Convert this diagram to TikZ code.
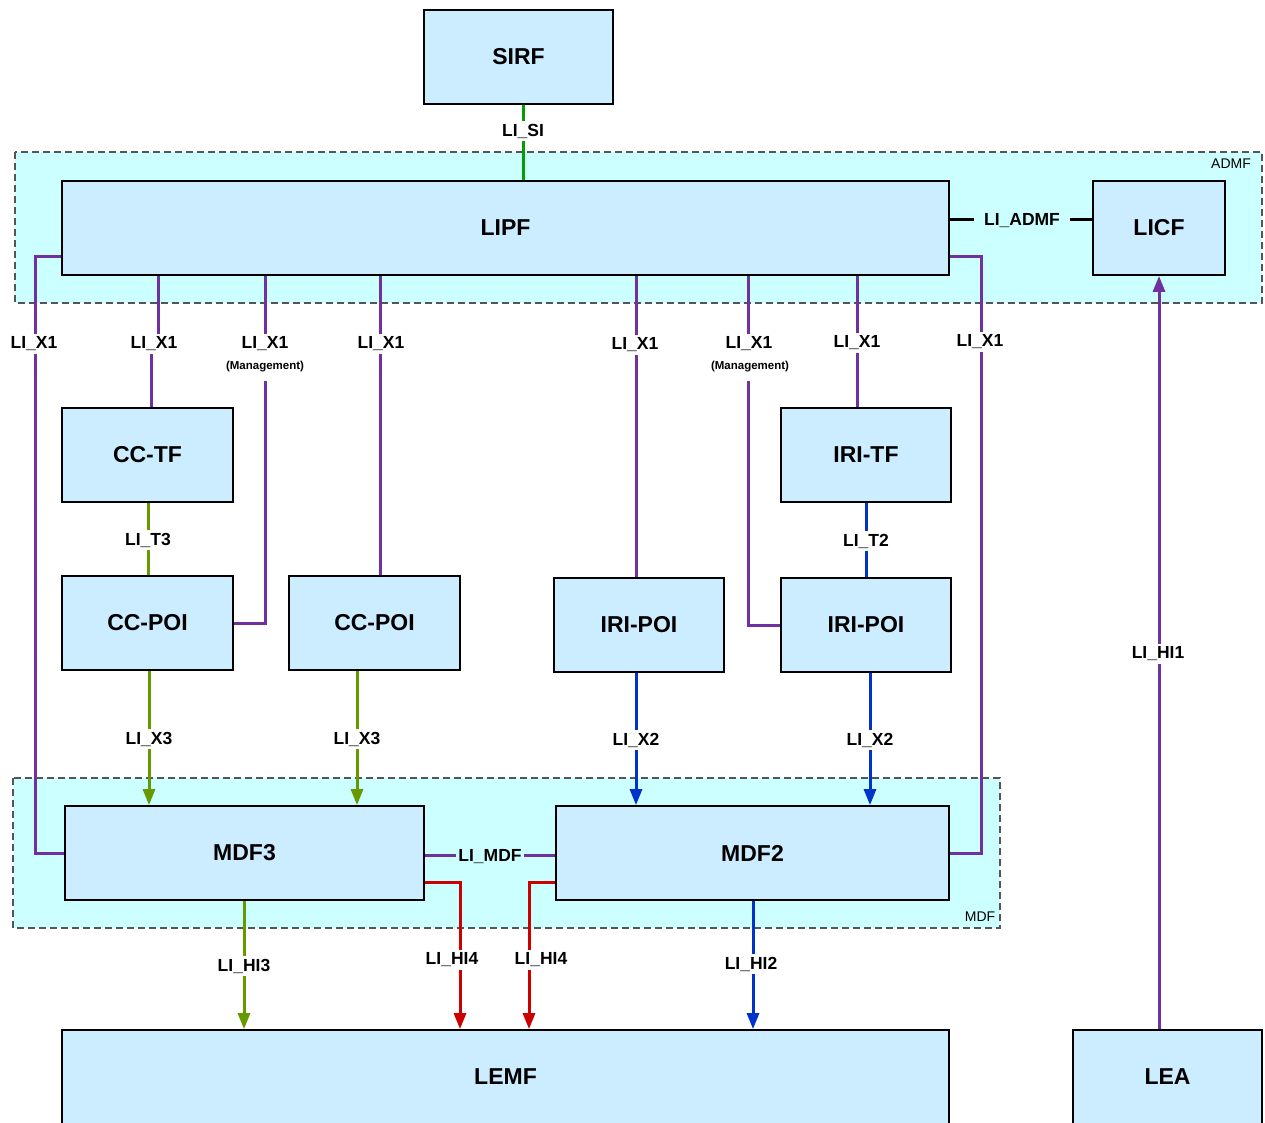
\documentclass[tikz,border=0pt]{standalone}
\usepackage{fontspec}
\setmainfont{Liberation Sans}
\usetikzlibrary{arrows.meta}
\definecolor{boxfill}{HTML}{CCECFF}
\definecolor{clusterfill}{HTML}{CCFFFF}
\definecolor{clusterline}{HTML}{555555}
\definecolor{purp}{HTML}{7030A0}
\definecolor{olive}{HTML}{669900}
\definecolor{sigreen}{HTML}{00A000}
\definecolor{iriblue}{HTML}{0033CC}
\definecolor{hired}{HTML}{CC0000}
\begin{document}
\begin{tikzpicture}[x=1pt,y=-1pt,
  box/.style={draw=black,line width=1.8pt,fill=boxfill,inner sep=0pt,
    font=\fontsize{23}{26}\selectfont\bfseries},
  cluster/.style={draw=clusterline,dash pattern=on 7pt off 4pt,line width=1.2pt,fill=clusterfill},
  clabel/.style={font=\fontsize{14}{16}\selectfont,inner sep=0pt},
  lbl/.style={font=\fontsize{17.5}{19}\selectfont\bfseries,fill=white,inner sep=3pt,yshift=-2pt},
  mgmt/.style={font=\fontsize{11.5}{13}\selectfont\bfseries,fill=white,inner xsep=6pt,inner ysep=9pt},
  conn/.style={line width=3pt},
  arr/.style={conn,-{Triangle[length=16pt,width=12pt]}},
  pline/.style={conn,draw=purp},
  gline/.style={draw=olive},
  bline/.style={draw=iriblue},
  rline/.style={draw=hired}]
\useasboundingbox (0,0) rectangle (1265,1122);
\clip (0,0) rectangle (1265,1122);

% clusters
\draw[cluster] (15,152) rectangle (1262,303);
\node[clabel] (admflbl) at (1231,164) {ADMF};
\draw[cluster] (13,778) rectangle (1000,928);
\node[clabel] (mdflbl) at (980,917) {MDF};

% helper coordinates
\foreach \xv in {35,148,149,151,158,244,265,357,380,460,523,529,636,748,753,857,870,981,1159}
  {\coordinate (x\xv) at (\xv,0);}
\foreach \yv in {219,256,342,855,882}
  {\coordinate (y\yv) at (0,\yv);}

% boxes
\node[box,minimum width=189pt,minimum height=94pt] (sirf) at (518.5,57) {SIRF};
\node[box,minimum width=887pt,minimum height=94pt] (lipf) at (505.5,228) {LIPF};
\node[box,minimum width=132pt,minimum height=94pt] (licf) at (1159,228) {LICF};
\node[box,minimum width=171pt,minimum height=94pt] (cctf) at (147.5,455) {CC-TF};
\node[box,minimum width=171pt,minimum height=94pt] (ccpoia) at (147.5,623) {CC-POI};
\node[box,minimum width=171pt,minimum height=94pt] (ccpoib) at (374.5,623) {CC-POI};
\node[box,minimum width=170pt,minimum height=94pt] (iripoia) at (639,625) {IRI-POI};
\node[box,minimum width=170pt,minimum height=94pt] (iripoib) at (866,625) {IRI-POI};
\node[box,minimum width=170pt,minimum height=94pt] (iritf) at (866,455) {IRI-TF};
\node[box,minimum width=359pt,minimum height=94pt] (mdfthree) at (244.5,853) {MDF3};
\node[box,minimum width=393pt,minimum height=94pt] (mdftwo) at (752.5,853) {MDF2};
\node[box,minimum width=887pt,minimum height=94pt] (lemf) at (505.5,1077) {LEMF};
\node[box,minimum width=189pt,minimum height=94pt] (lea) at (1167.5,1077) {LEA};

% LI_SI
\draw[conn,draw=sigreen] (sirf.south -| x523) -- (lipf.north -| x523);
\node[lbl] (lsi) at (523,129) {LI\_SI};

% LI_ADMF
\draw[conn,draw=black] (lipf.east |- y219) -- (licf.west |- y219);
\node[lbl,fill=clusterfill,inner xsep=10pt] (ladmf) at (1022,219) {LI\_ADMF};

% LI_X1 connectors
\draw[pline] (lipf.west |- y256) -| (x35 |- mdfthree.west) -- (mdfthree.west);
\node[lbl] (lxa) at (34,342) {LI\_X1};
\draw[pline] (lipf.south -| x158) -- (x158 |- y342) -- (x151 |- y342) -- (cctf.north -| x151);
\node[lbl] (lxb) at (154,342) {LI\_X1};
\draw[pline] (lipf.south -| x265) |- (ccpoia.east);
\node[mgmt] (lmc) at (265,367) {(Management)};
\node[lbl] (lxc) at (265,342) {LI\_X1};
\draw[pline] (lipf.south -| x380) -- (ccpoib.north -| x380);
\node[lbl] (lxd) at (381,342) {LI\_X1};
\draw[pline] (lipf.south -| x636) -- (iripoia.north -| x636);
\node[lbl] (lxe) at (635,343) {LI\_X1};
\draw[pline] (lipf.south -| x748) |- (iripoib.west);
\node[mgmt] (lmf) at (750,367) {(Management)};
\node[lbl] (lxf) at (749,342) {LI\_X1};
\draw[pline] (lipf.south -| x857) -- (iritf.north -| x857);
\node[lbl] (lxg) at (857,341) {LI\_X1};
\draw[pline] (lipf.east |- y256) -| (x981 |- mdftwo.east) -- (mdftwo.east);
\node[lbl] (lxh) at (980,340) {LI\_X1};

% LI_T3 / LI_T2
\draw[conn,gline] (cctf.south -| x148) -- (ccpoia.north -| x148);
\node[lbl] (lt3) at (148,538) {LI\_T3};
\draw[conn,bline] (iritf.south) -- (iripoib.north);
\node[lbl] (lt2) at (866,539) {LI\_T2};

% LI_X3 / LI_X2
\draw[arr,gline] (ccpoia.south -| x149) -- (mdfthree.north -| x149);
\node[lbl] (lx3a) at (149,737) {LI\_X3};
\draw[arr,gline] (ccpoib.south -| x357) -- (mdfthree.north -| x357);
\node[lbl] (lx3b) at (357,737) {LI\_X3};
\draw[arr,bline] (iripoia.south -| x636) -- (mdftwo.north -| x636);
\node[lbl] (lx2a) at (636,738) {LI\_X2};
\draw[arr,bline] (iripoib.south -| x870) -- (mdftwo.north -| x870);
\node[lbl] (lx2b) at (870,738) {LI\_X2};

% LI_MDF
\draw[pline] (mdfthree.east |- y855) -- (mdftwo.west |- y855);
\node[lbl,fill=clusterfill,inner xsep=2pt] (lmdf) at (490,855) {LI\_MDF};

% handovers
\draw[arr,gline] (mdfthree.south -| x244) -- (lemf.north -| x244);
\node[lbl] (lhi3) at (244,964) {LI\_HI3};
\draw[arr,rline] (mdfthree.east |- y882) -| (lemf.north -| x460);
\node[lbl] (lhi4a) at (452,958) {LI\_HI4};
\draw[arr,rline] (mdftwo.west |- y882) -| (lemf.north -| x529);
\node[lbl] (lhi4b) at (541,958) {LI\_HI4};
\draw[arr,bline] (mdftwo.south -| x753) -- (lemf.north -| x753);
\node[lbl] (lhi2) at (751,962) {LI\_HI2};
\draw[arr,draw=purp] (lea.north -| x1159) -- (licf.south -| x1159);
\node[lbl] (lhi1) at (1158,652) {LI\_HI1};
\end{tikzpicture}
\end{document}
